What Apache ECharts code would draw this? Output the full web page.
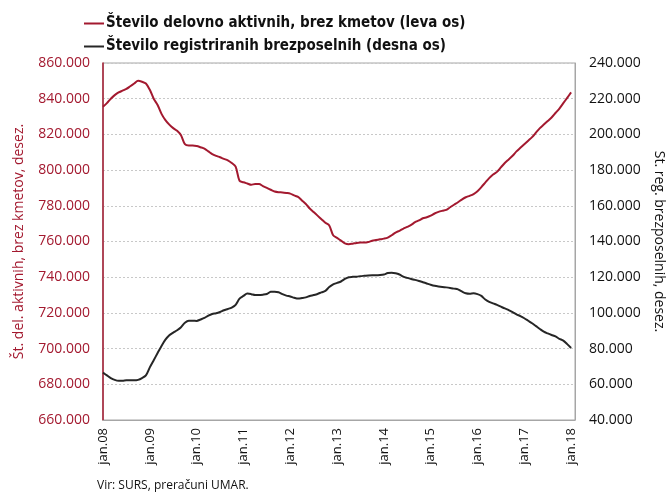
<!DOCTYPE html>
<html>
<head>
<meta charset="utf-8">
<script src="https://cdn.jsdelivr.net/npm/echarts@6/dist/echarts.min.js"></script>
<style>
html,body{margin:0;padding:0;background:#fff;}
#chart{width:666px;height:492px;}
</style>
</head>
<body>
<div id="chart"></div>
<script>
// Monthly categories jan.08 .. feb.18 (axis runs one month past the last point)
const monthNames = ['jan','feb','mar','apr','maj','jun','jul','avg','sep','okt','nov','dec'];
const years = ['08','09','10','11','12','13','14','15','16','17','18'];
const categories = [];
years.forEach(y => monthNames.forEach(m => categories.push(m + '.' + y)));
categories.length = 122;

const seriesNames = [
  'Število delovno aktivnih, brez kmetov (leva os)',
  'Število registriranih brezposelnih (desna os)'
];

// Employed persons (thousands), left axis
const employed = [
  835.5,837.5,840,842,843.5,844.5,845.5,847,848.5,850,849.5,848.5,
  845,840,836.5,831.5,828,825.5,823.5,822,819.5,814.5,813.8,813.8,
  813.5,812.8,812,810.5,809,808,807.2,806.3,805.5,804,802,794,
  793.2,792.5,791.8,792.2,792.2,791,790,789,788,787.6,787.5,787.2,
  786.8,785.8,785,783,781,778.5,776.5,774.5,772.5,770.5,769,763.5,
  762,760.5,759,758.5,758.8,759.2,759.4,759.4,759.7,760.4,760.8,761.2,
  761.6,762.2,763.5,765,766,767.2,768.2,769.3,770.8,771.8,773,773.6,
  774.5,775.7,776.6,777.2,777.7,779.2,780.6,782,783.5,784.8,785.6,786.6,
  788.2,790.5,793,795.5,797.5,799,801.5,804,806,808,810.5,812.5,
  814.5,816.5,818.5,821,823.5,825.5,827.5,829.5,832,834.5,837.5,840.5,
  843.5
];

// Registered unemployed (thousands), right axis
const unemployed = [
  66.5,65,63.5,62.5,62,62,62.2,62.2,62.2,62.5,63.5,65,
  69.5,73.5,77.5,81.5,85,87.5,89,90.3,92,94.5,95.6,95.6,
  95.5,96.3,97.2,98.5,99.4,99.8,100.5,101.5,102.2,103,104.5,108,
  109.5,110.8,110.5,110,110,110.2,110.6,111.8,111.9,111.6,110.5,109.7,
  109.2,108.5,108,108.3,108.7,109.5,110,110.6,111.5,112.3,114.5,116,
  116.8,117.6,119,120,120.2,120.3,120.6,120.8,121,121.1,121.1,121.2,
  121.5,122.3,122.5,122.2,121.5,120.3,119.6,119,118.5,117.9,117.2,116.5,
  115.8,115.2,114.8,114.5,114.3,114,113.6,113.2,112,111,110.7,111,
  110.5,109.5,107.5,106.2,105.3,104.5,103.5,102.5,101.6,100.5,99.2,98.2,
  97,95.6,94.2,92.6,91,89.5,88.5,87.6,86.8,85.5,84.5,82.5,
  80.3
];

const leftAxis = {min: 660, max: 860, interval: 20, name: 'Št. del. aktivnih, brez kmetov, desez.'};
const rightAxis = {min: 40, max: 240, interval: 20, name: 'Št. reg. brezposelnih, desez.'};
const sourceText = 'Vir: SURS, preračuni UMAR.';

const RED = '#a3192f';
const DARK = '#262626';
const fmt = v => v.toFixed(0) + '.000';
const FONT = "'Open Sans', 'Noto Sans', sans-serif";

const chart = echarts.init(document.getElementById('chart'), null, {renderer: 'canvas'});
chart.setOption({
  animation: false,
  backgroundColor: '#fff',
  grid: {left: 103, right: 91, top: 63, bottom: 72, show: true, borderColor: '#a6a6a6', borderWidth: 1,
         containLabel: false, outerBoundsMode: 'none'},
  legend: {
    orient: 'vertical', left: 79, top: 11, itemGap: 8,
    itemWidth: 20, itemHeight: 2, icon: 'rect',
    textStyle: {fontFamily: "'Liberation Sans Narrow', 'DejaVu Sans Condensed', 'Roboto Condensed', sans-serif", fontWeight: 'bold', fontSize: 15, color: '#111', padding: [0,0,0,-3]},
    data: seriesNames
  },
  xAxis: {
    type: 'category', data: categories, boundaryGap: false,
    axisLine: {lineStyle: {color: '#a6a6a6', width: 1}},
    axisTick: {show: false},
    axisLabel: {interval: 11, rotate: 90, margin: 8, fontFamily: FONT, fontSize: 13, color: '#111'},
    splitLine: {show: false}
  },
  yAxis: [
    {
      type: 'value', position: 'left', min: leftAxis.min, max: leftAxis.max, interval: leftAxis.interval,
      name: leftAxis.name, nameLocation: 'middle', nameGap: 77, nameRotate: 90,
      nameTextStyle: {color: RED, fontFamily: FONT, fontSize: 14},
      axisLine: {show: true, lineStyle: {color: RED, width: 1.5}},
      axisTick: {show: false},
      axisLabel: {formatter: fmt, color: RED, fontFamily: FONT, fontSize: 14, margin: 13},
      splitLine: {show: true, lineStyle: {color: '#c8c8c8', type: [2,2], width: 1}}
    },
    {
      type: 'value', position: 'right', min: rightAxis.min, max: rightAxis.max, interval: rightAxis.interval,
      name: rightAxis.name, nameLocation: 'middle', nameGap: 66, nameRotate: -90,
      nameTextStyle: {color: '#111', fontFamily: FONT, fontSize: 14},
      axisLine: {show: true, lineStyle: {color: '#a6a6a6', width: 1}},
      axisTick: {show: false},
      axisLabel: {formatter: fmt, color: '#111', fontFamily: FONT, fontSize: 14, margin: 14},
      splitLine: {show: false}
    }
  ],
  series: [
    {name: seriesNames[0], type: 'line', yAxisIndex: 0, data: employed, showSymbol: false, smooth: 0.3,
     lineStyle: {color: RED, width: 2}, itemStyle: {color: RED}},
    {name: seriesNames[1], type: 'line', yAxisIndex: 1, data: unemployed, showSymbol: false, smooth: 0.3,
     lineStyle: {color: DARK, width: 2}, itemStyle: {color: DARK}}
  ],
  graphic: [
    {type: 'text', left: 97, top: 480, style: {text: sourceText, fontFamily: FONT, fontSize: 12, fill: '#111'}}
  ]
});
</script>
</body>
</html>
